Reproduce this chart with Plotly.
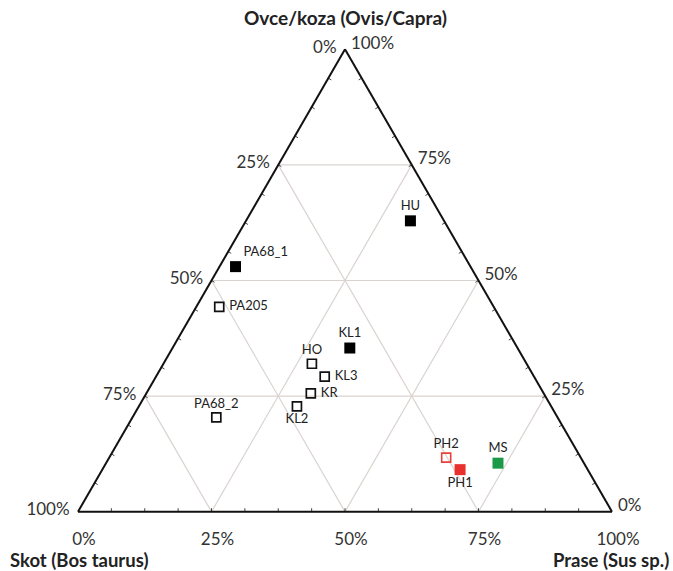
import math
import plotly.graph_objects as go

# ---- data (fractions) ----
sites = ["HU", "PA68_1", "PA205", "KL1", "HO", "KL3", "KR", "KL2", "PA68_2", "PH2", "PH1", "MS"]
ovce = [0.629, 0.530, 0.443, 0.354, 0.320, 0.292, 0.256, 0.228, 0.204, 0.117, 0.091, 0.105]
skot = [0.063, 0.440, 0.514, 0.314, 0.402, 0.392, 0.436, 0.476, 0.639, 0.252, 0.239, 0.161]
prase = [0.308, 0.030, 0.043, 0.332, 0.278, 0.316, 0.308, 0.296, 0.157, 0.631, 0.670, 0.734]
group = ["filled", "filled", "open", "filled", "open", "open", "open", "open", "open",
         "red_open", "red_filled", "green"]

major_vals = [0, 0.25, 0.5, 0.75, 1.0]
major_text = ["100%", "75%", "50%", "25%", "0%"]
grid_vals = [0.25, 0.5, 0.75]
minor_vals = [i / 16 for i in range(1, 16)]

title_a = "Ovce/koza (Ovis/Capra)"
title_b = "Skot (Bos taurus)"
title_c = "Prase (Sus sp.)"

# ---- styles ----
styles = {
    "filled": dict(symbol="square", size=11, color="#000000", lw=0),
    "open": dict(symbol="square-open", size=9, color="#111111", lw=1.7),
    "red_open": dict(symbol="square-open", size=9, color="#e8403a", lw=1.6),
    "red_filled": dict(symbol="square", size=11, color="#e8312f", lw=0),
    "green": dict(symbol="square", size=11, color="#1a9a48", lw=0),
}
label_pos = {
    "HU": "top center", "PA68_1": "top right", "PA205": "middle right", "KL1": "top center",
    "HO": "top center", "KL3": "middle right", "KR": "middle right", "KL2": "bottom center",
    "PA68_2": "top center", "PH2": "top center", "PH1": "bottom center", "MS": "top center",
}

FONT = "Lato, 'Open Sans', sans-serif"
fig = go.Figure()

# grid lines (from grid values)
gx_a, gx_b, gx_c = [], [], []
for v in grid_vals:
    gx_a += [v, v, None]; gx_b += [1 - v, 0, None]; gx_c += [0, 1 - v, None]
    gx_a += [1 - v, 0, None]; gx_b += [v, v, None]; gx_c += [0, 1 - v, None]
    gx_a += [1 - v, 0, None]; gx_b += [0, 1 - v, None]; gx_c += [v, v, None]
fig.add_trace(go.Scatterternary(a=gx_a, b=gx_b, c=gx_c, mode="lines",
                                line=dict(color="#d9d3cf", width=1.2),
                                hoverinfo="skip", showlegend=False))

# small tick marks along the edges
S = math.sqrt(3) / 2
def to_abc(x, y):
    a = y / S
    c = x - a / 2
    return a, 1 - a - c, c

d = 3.5 / 534
ta, tb, tc = [], [], []
for v in minor_vals:
    p0 = (v, 0.0); n0 = (0.0, 1.0)
    p1 = (v / 2, v * S); n1 = (S, -0.5)
    p2 = (1 - v / 2, v * S); n2 = (-S, -0.5)
    for p, nn in [(p0, n0), (p1, n1), (p2, n2)]:
        for q in [p, (p[0] + d * nn[0], p[1] + d * nn[1])]:
            a, b, c = to_abc(*q)
            ta.append(a); tb.append(b); tc.append(c)
        ta.append(None); tb.append(None); tc.append(None)
fig.add_trace(go.Scatterternary(a=ta, b=tb, c=tc, mode="lines",
                                line=dict(color="#444444", width=1),
                                hoverinfo="skip", showlegend=False))

for g in ["filled", "open", "red_open", "red_filled", "green"]:
    idx = [i for i, gg in enumerate(group) if gg == g]
    st = styles[g]
    fig.add_trace(go.Scatterternary(
        a=[ovce[i] for i in idx], b=[skot[i] for i in idx], c=[prase[i] for i in idx],
        text=[sites[i] for i in idx],
        texttemplate=[("\u00a0%{text}" if label_pos[sites[i]] == "middle right" else "%{text}")
                      for i in idx],
        mode="markers+text",
        textposition=[label_pos[sites[i]] for i in idx],
        textfont=dict(family=FONT, size=13, color="#222222"),
        marker=dict(symbol=st["symbol"], size=st["size"], color=st["color"],
                    line=dict(width=st["lw"], color=st["color"])),
        showlegend=False, cliponaxis=False, hoverinfo="skip",
    ))

def axis(ticklen):
    return dict(
        tickmode="array", tickvals=major_vals, ticktext=major_text,
        showgrid=False, linecolor="#111111", linewidth=2,
        ticks="outside", ticklen=ticklen, tickcolor="rgba(0,0,0,0)",
        tickfont=dict(family=FONT, size=17, color="#333333"),
        title=dict(text=""), min=0,
    )

fig.update_layout(
    width=673, height=571,
    margin=dict(l=78, r=61, t=49, b=59),
    paper_bgcolor="white",
    ternary=dict(
        sum=1, bgcolor="white",
        domain=dict(x=[0, 1], y=[0, 1]),
        aaxis=axis(5), baxis=axis(12), caxis=axis(5),
    ),
    annotations=[
        dict(text="<b>" + title_a + "</b>", xref="paper", yref="paper", x=0.5, y=1.067,
             xanchor="center", yanchor="middle", showarrow=False,
             font=dict(family=FONT, size=19, color="#222222")),
        dict(text="<b>" + title_b + "</b>", xref="paper", yref="paper", x=-0.131, y=-0.104,
             xanchor="left", yanchor="middle", showarrow=False,
             font=dict(family=FONT, size=18.5, color="#222222")),
        dict(text="<b>" + title_c + "</b>", xref="paper", yref="paper", x=1.110, y=-0.104,
             xanchor="right", yanchor="middle", showarrow=False,
             font=dict(family=FONT, size=18.5, color="#222222")),
    ],
)

fig.write_html("out.html", config={"displayModeBar": False},
               post_script="document.body.style.margin='0';")
